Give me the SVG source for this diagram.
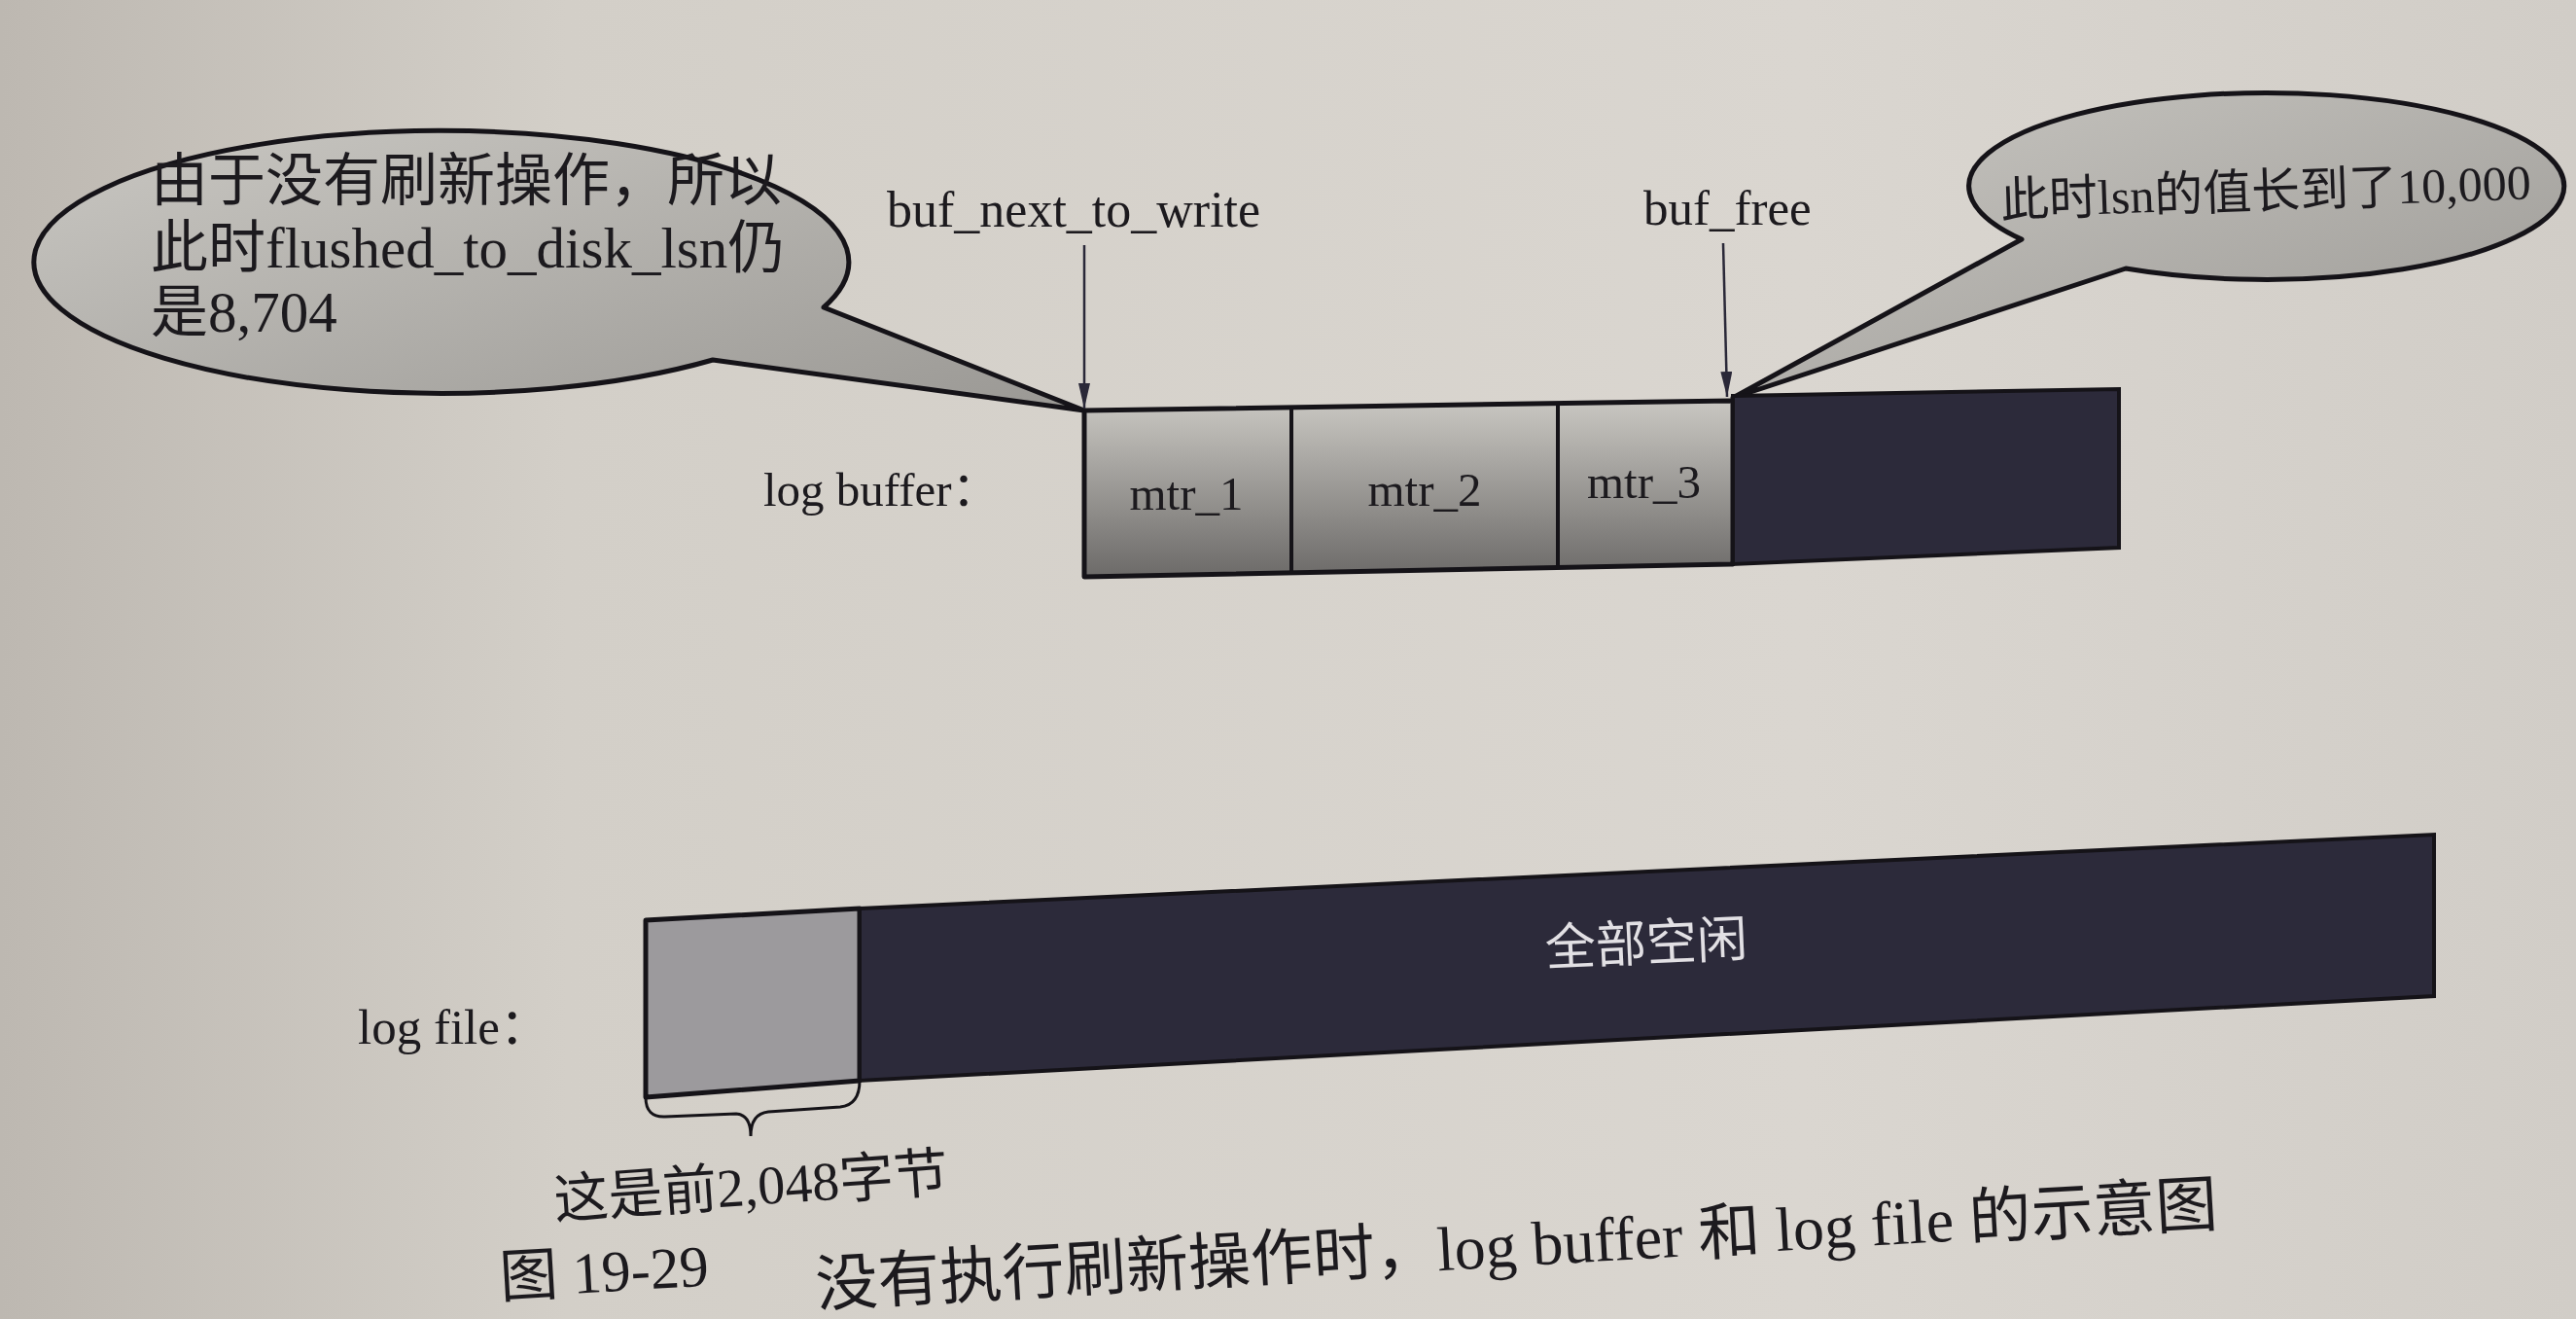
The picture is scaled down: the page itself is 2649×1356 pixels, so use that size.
<svg xmlns="http://www.w3.org/2000/svg" width="2649" height="1356" viewBox="0 0 2649 1356">
<defs>
  <linearGradient id="paper" x1="0" y1="0" x2="1" y2="0">
    <stop offset="0" stop-color="#bdb8b1"/>
    <stop offset="0.22" stop-color="#d3cfc8"/>
    <stop offset="0.7" stop-color="#dad6d0"/>
    <stop offset="1" stop-color="#d1cdc7"/>
  </linearGradient>
  <linearGradient id="bub" x1="0" y1="0" x2="1" y2="1">
    <stop offset="0" stop-color="#c9c7c2"/>
    <stop offset="1" stop-color="#9a9894"/>
  </linearGradient>
  <linearGradient id="cell" x1="0" y1="0" x2="0" y2="1">
    <stop offset="0" stop-color="#c9c7c2"/>
    <stop offset="1" stop-color="#6c6a68"/>
  </linearGradient>
  <marker id="arr" viewBox="0 0 26 12" refX="26" refY="6" markerWidth="26" markerHeight="12" markerUnits="userSpaceOnUse" orient="auto">
    <path d="M0,0 L26,6 L0,12 Z" fill="#2a2838"/>
  </marker>
</defs>
<style>
  .t{font-family:"Liberation Serif","Noto Sans CJK SC",serif;fill:#1c1a1e}
  .bub{fill:url(#bub);stroke:#151318;stroke-width:5;stroke-linejoin:round}
  .ln{stroke:#151318;stroke-width:5;fill:none;stroke-linejoin:round}
  .cells{fill:url(#cell);stroke:#151318;stroke-width:5;stroke-linejoin:round}
  .first{fill:#9c9a9d;stroke:#151318;stroke-width:5;stroke-linejoin:round}
  .dark{fill:#2c2a3a;stroke:#151318;stroke-width:4}
  .ptr{stroke:#2a2838;stroke-width:2.5;fill:none;marker-end:url(#arr)}
</style>
<rect x="0" y="0" width="2649" height="1356" fill="url(#paper)"/>

<g id="bubble-left">
  <path class="bub" d="M847,316 A419 135 0 1 0 733,370 L1115,422 Z"/>
  <text class="t" font-size="59" x="155" y="206">由于没有刷新操作，所以</text>
  <text class="t" font-size="59" x="155" y="275">此时flushed_to_disk_lsn仍</text>
  <text class="t" font-size="59" x="155" y="341">是8,704</text>
</g>

<g id="bubble-right">
  <path class="bub" d="M2079,246 A306 96 0 1 1 2186,276 L1782,409 Z"/>
  <text class="t" font-size="50" x="2057" y="214" transform="rotate(-2 2330 200)">此时lsn的值长到了10,000</text>
</g>

<g id="label-buf-next">
  <text class="t" font-size="52" x="912" y="233">buf_next_to_write</text>
</g>
<g id="label-buf-free">
  <text class="t" font-size="51" x="1690" y="231">buf_free</text>
</g>

<g id="log-buffer">
  <text class="t" font-size="49" x="785" y="520">log buffer：</text>
  <polygon class="cells" points="1115,422 1782,412 1782,580 1115,593"/>
  <line class="ln" x1="1328" y1="419" x2="1328" y2="589" style="stroke-width:4"/>
  <line class="ln" x1="1602" y1="415" x2="1602" y2="584" style="stroke-width:4"/>
  <polygon class="dark" points="1782,407 2179,400 2179,563 1782,580"/>
  <text class="t" font-size="49" x="1220" y="524" text-anchor="middle">mtr_1</text>
  <text class="t" font-size="49" x="1465" y="520" text-anchor="middle">mtr_2</text>
  <text class="t" font-size="49" x="1632" y="512">mtr_3</text>
</g>

<g id="connectors">
  <line class="ptr" x1="1115" y1="252" x2="1115" y2="420"/>
  <line class="ptr" x1="1772" y1="250" x2="1776" y2="408"/>
</g>

<g id="log-file">
  <text class="t" font-size="51" x="368" y="1073">log file：</text>
  <polygon class="first" points="664,946 884,934 884,1111 664,1128"/>
  <polygon class="dark" points="884,934 2503,858 2503,1024 884,1111"/>
  <text x="1693" y="988" font-size="52" text-anchor="middle" fill="#e2e0e4" font-family="Liberation Serif, Noto Sans CJK SC, serif" transform="rotate(-2.6 1693 971)">全部空闲</text>
  <path d="M664,1128 Q664,1149 684,1148 L757,1145 Q772,1146 772,1168 Q772,1145 790,1143 L864,1138 Q884,1136 884,1111" fill="none" stroke="#151318" stroke-width="3"/>
  <text class="t" font-size="56" x="571" y="1253" transform="rotate(-4 571 1253)">这是前2,048字节</text>
</g>

<g id="caption">
  <text class="t" font-size="64" x="840" y="1343" transform="rotate(-3.3 840 1343)">没有执行刷新操作时，log buffer 和 log file 的示意图</text>
  <text class="t" font-size="60" x="515" y="1334" transform="rotate(-3.3 515 1334)">图 19-29</text>
</g>
</svg>
